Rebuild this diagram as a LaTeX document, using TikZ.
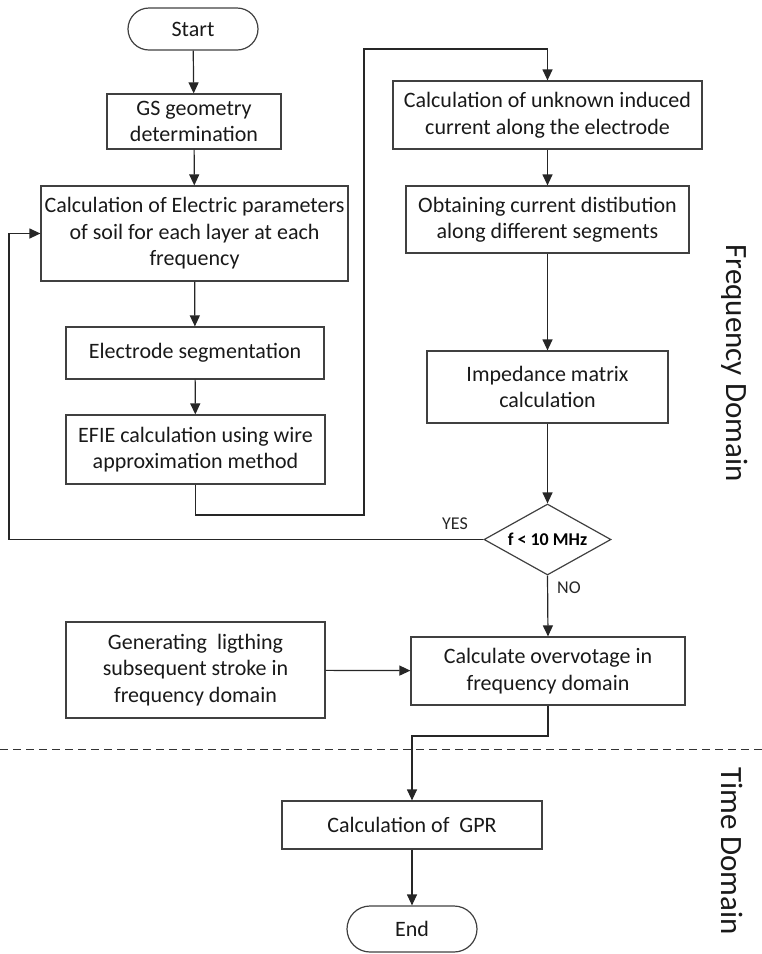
\documentclass[tikz,border=0pt]{standalone}
\usepackage{fontspec}
\setmainfont{Carlito}
\usetikzlibrary{arrows.meta,shapes.geometric}

\begin{document}
\begin{tikzpicture}[x=1pt,y=-1pt,line width=1.2pt,
  box/.style={draw=black!75,rectangle,align=center,inner sep=0pt,
    text=black!90,font=\fontsize{22}{26.5}\selectfont},
  term/.style={box,rounded corners=21pt},
  flow/.style={draw=black!85,-{Triangle[length=11pt,width=10pt]}},
  wire/.style={draw=black!80},
  tag/.style={text=black!85,font=\fontsize{18}{20}\selectfont},
  side/.style={text=black!90,rotate=-90,font=\fontsize{31}{34}\selectfont}]
\useasboundingbox (0,0) rectangle (762,954);

% left column
\node[term,minimum width=130pt,minimum height=42pt] (start) at (193,29) {Start};
\node[box,minimum width=174pt,minimum height=55pt] (gs) at (194,121.5) {GS geometry\\determination};
\node[box,minimum width=307pt,minimum height=95pt] (param) at (194.5,233.5) {Calculation of Electric parameters\\of soil for each layer at each\\frequency};
\node[box,minimum width=258pt,minimum height=52pt] (segm) at (195,353) {Electrode segmentation};
\node[box,minimum width=259pt,minimum height=69pt] (efie) at (195.5,449.5) {EFIE calculation using wire\\approximation method};

% right column
\node[box,minimum width=309pt,minimum height=68pt] (induced) at (547.5,115) {Calculation of unknown induced\\current along the electrode};
\node[box,minimum width=283pt,minimum height=67pt] (distrib) at (547.5,219.5) {Obtaining current distibution\\along different segments};
\node[box,minimum width=241pt,minimum height=72pt] (imped) at (547.5,387) {Impedance matrix\\calculation};
\node[draw=black!75,diamond,aspect=1.79,inner sep=0pt,minimum width=127pt,minimum height=71pt,
  text=black,font=\bfseries\fontsize{18}{20}\selectfont] (freq) at (547.5,539.5) {f < 10 MHz};
\node[box,minimum width=274pt,minimum height=68pt] (overv) at (548,671) {Calculate overvotage in\\frequency domain};
\node[box,minimum width=259pt,minimum height=96pt] (stroke) at (195.5,670) {Generating\ \ ligthing\\subsequent stroke in\\frequency domain};

% time domain
\node[box,minimum width=260pt,minimum height=48pt] (gpr) at (412,825) {Calculation of\ \ GPR};
\node[term,minimum width=130pt,minimum height=46pt,rounded corners=23pt] (end) at (412,929) {End};

\coordinate (e1) at (efie.south |- 0,515);
\coordinate (e2) at (364,515);
\coordinate (e3) at (364,49);
\coordinate (e4) at (induced.north |- 0,49);
\coordinate (y1) at (9,539.5);
\coordinate (y2) at (9,233.5);
\coordinate (o1) at (overv.south |- 0,736);
\coordinate (o2) at (gpr.north |- 0,736);

\draw[flow] (start) -- (gs);
\draw[flow] (gs) -- (param);
\draw[flow] (param) -- (segm);
\draw[flow] (segm) -- (efie);
\draw[flow] (efie.south) -- (e1) -- (e2) -- (e3) -- (e4) -- (induced.north);
\draw[flow] (induced) -- (distrib);
\draw[flow] (distrib) -- (imped);
\draw[flow] (imped) -- (freq);
\draw[flow] (freq.west) -- (y1) -- (y2) -- (param.west);
\draw[flow] (freq.south) -- (overv.north);
\draw[flow] (stroke) -- (overv);
\draw[flow] (overv.south) -- (o1) -- (o2) -- (gpr.north);
\draw[flow] (gpr) -- (end);

\node[tag] (yes) at (455,524) {YES};
\node[tag] (no) at (569,588) {NO};

% domains
\draw[wire,dashed,dash pattern=on 8pt off 5pt,line width=0.9pt] (0,749) -- (762,749);
\node[side] (fd) at (735,363) {Frequency Domain};
\node[side] (td) at (732,851) {Time Domain};
\end{tikzpicture}
\end{document}
